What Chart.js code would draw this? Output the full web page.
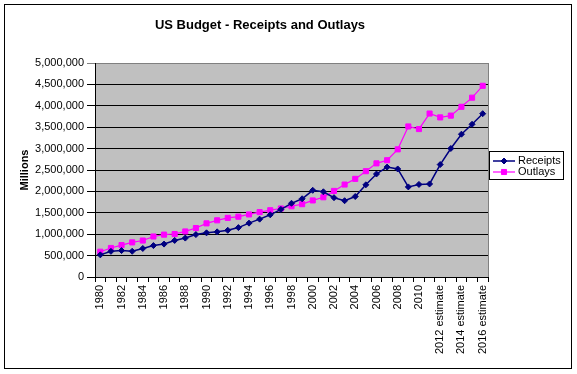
<!DOCTYPE html>
<html>
<head>
<meta charset="utf-8">
<script src="https://cdn.jsdelivr.net/npm/chart.js@4/dist/chart.umd.min.js"></script>
<style>
  html, body { margin: 0; padding: 0; background: #fff; }
  #wrap { width: 577px; height: 374px; position: relative; }
</style>
</head>
<body>
<div id="wrap"><canvas id="chart" width="577" height="374"></canvas></div>
<script>
// fiscal years, 2011 onward are estimates
const years = [
  "1980", "1981", "1982", "1983", "1984", "1985", "1986", "1987", "1988", "1989",
  "1990", "1991", "1992", "1993", "1994", "1995", "1996", "1997", "1998", "1999",
  "2000", "2001", "2002", "2003", "2004", "2005", "2006", "2007", "2008", "2009",
  "2010", "2011 estimate", "2012 estimate", "2013 estimate", "2014 estimate",
  "2015 estimate", "2016 estimate"
]

// millions of dollars
const receipts = [
  517112, 599272, 617766, 600562, 666438, 734037, 769155, 854288, 909238, 991105,
  1031958, 1054988, 1091208, 1154335, 1258566, 1351790, 1453053, 1579232, 1721728, 1827452,
  2025191, 1991082, 1853136, 1782314, 1880114, 2153611, 2406869, 2567985, 2523991, 2104989,
  2162724, 2173700, 2627397, 3002807, 3336632, 3568210, 3815571
]

const outlays = [
  590941, 678241, 745743, 808364, 851805, 946344, 990382, 1004017, 1064416, 1143744,
  1252993, 1324226, 1381529, 1409386, 1461753, 1515742, 1560484, 1601116, 1652458, 1701842,
  1788950, 1862846, 2010894, 2159899, 2292841, 2471957, 2655050, 2728686, 2982544, 3517677,
  3456213, 3818819, 3728686, 3770866, 3976557, 4189706, 4467075
]

const yMax = 5000000
const yStep = 500000

const FONT = "'Liberation Sans', Arial, sans-serif"
const NAVY = "#000080"
const PINK = "#FF00FF"

const decor = {
  id: "decor",
  beforeDraw(chart) {
    const {ctx, chartArea: a} = chart
    ctx.save()
    ctx.fillStyle = "#fff"
    ctx.fillRect(0, 0, chart.width, chart.height)
    ctx.fillStyle = "#C0C0C0"
    ctx.fillRect(a.left, a.top, a.right - a.left, a.bottom - a.top)
    ctx.restore()
  },
  afterDraw(chart) {
    const {ctx, chartArea: a} = chart
    ctx.save()
    // plot area right edge
    ctx.strokeStyle = "#808080"
    ctx.lineWidth = 1
    ctx.beginPath()
    ctx.moveTo(Math.round(a.right) + 0.5, a.top)
    ctx.lineTo(Math.round(a.right) + 0.5, a.bottom)
    ctx.stroke()

    // outer chart border
    ctx.strokeStyle = "#000"
    ctx.strokeRect(4.5, 4.5, 567, 364)

    // title
    ctx.fillStyle = "#000"
    ctx.font = "bold 13px " + FONT
    ctx.textAlign = "center"
    ctx.textBaseline = "middle"
    ctx.fillText("US Budget - Receipts and Outlays", 260, 25)

    // y axis title
    ctx.save()
    ctx.translate(25, (a.top + a.bottom) / 2)
    ctx.rotate(-Math.PI / 2)
    ctx.font = "bold 11px " + FONT
    ctx.fillText("Millions", 0, 0)
    ctx.restore()

    // legend
    ctx.strokeRect(489.5, 151.5, 74, 28)
    const rows = [
      {label: "Receipts", ds: 0, y: 161},
      {label: "Outlays", ds: 1, y: 172}
    ]
    ctx.textAlign = "left"
    ctx.font = "11px " + FONT
    rows.forEach(r => {
      const ds = chart.data.datasets[r.ds]
      ctx.strokeStyle = ds.borderColor
      ctx.fillStyle = ds.backgroundColor
      ctx.lineWidth = ds.borderWidth
      ctx.beginPath()
      ctx.moveTo(493, r.y)
      ctx.lineTo(515, r.y)
      ctx.stroke()
      ctx.lineWidth = 1
      Chart.helpers.drawPoint(ctx, {
        pointStyle: ds.pointStyle, radius: ds.pointRadius, borderWidth: 1
      }, 504, r.y)
      ctx.fillStyle = "#000"
      ctx.fillText(r.label, 518, r.y)
    })
    ctx.restore()
  }
}

new Chart(document.getElementById("chart"), {
  type: "line",
  data: {
    labels: years,
    datasets: [{
      label: "Receipts",
      data: receipts,
      borderColor: NAVY,
      backgroundColor: NAVY,
      borderWidth: 1.5,
      pointStyle: "rectRot",
      pointRadius: 3,
      pointHoverRadius: 3,
      pointBorderWidth: 1,
      tension: 0
    }, {
      label: "Outlays",
      data: outlays,
      borderColor: PINK,
      backgroundColor: PINK,
      borderWidth: 1.2,
      pointStyle: "rect",
      pointRadius: 3.6,
      pointHoverRadius: 3.6,
      pointBorderWidth: 1,
      tension: 0
    }]
  },
  options: {
    responsive: false,
    animation: false,
    events: [],
    layout: {padding: {top: 63, right: 89, left: 0, bottom: 0}},
    plugins: {
      legend: {display: false},
      title: {display: false},
      tooltip: {enabled: false}
    },
    scales: {
      x: {
        offset: true,
        afterFit(scale) { scale.height = 97 },
        grid: {
          offset: true,
          drawOnChartArea: false,
          drawTicks: true,
          tickLength: 5,
          color: "#000"
        },
        border: {color: "#000", width: 1},
        ticks: {
          autoSkip: false,
          maxRotation: 90,
          minRotation: 90,
          padding: 3,
          color: "#000",
          font: {family: FONT, size: 11},
          callback(v, i) { return i % 2 === 0 ? years[i] : "" }
        }
      },
      y: {
        min: 0,
        max: yMax,
        afterFit(scale) { scale.width = 95 },
        grid: {
          color: ctx => ctx.tick && ctx.tick.value === yMax ? "#808080" : "#000",
          lineWidth: 1,
          drawTicks: true,
          tickLength: 8
        },
        border: {color: "#000", width: 1},
        ticks: {
          stepSize: yStep,
          padding: 3,
          color: "#000",
          font: {family: FONT, size: 11},
          callback: v => v.toLocaleString("en-US")
        }
      }
    }
  },
  plugins: [decor]
})
</script>
</body>
</html>
